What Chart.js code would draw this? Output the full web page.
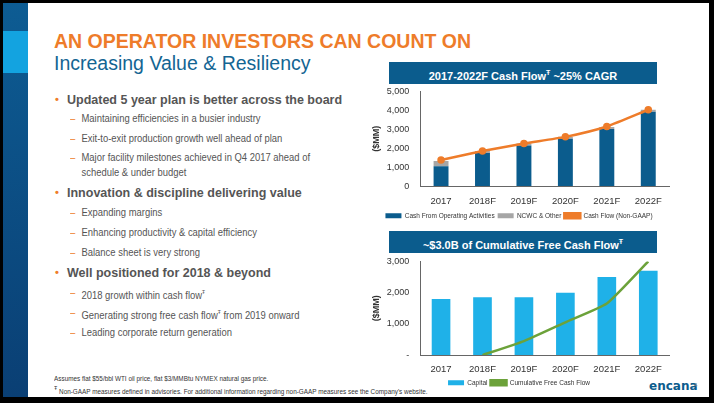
<!DOCTYPE html>
<html><head><meta charset="utf-8">
<script src="https://cdn.jsdelivr.net/npm/chart.js@4"></script>
<style>
body{margin:0;width:714px;height:403px;background:#000;overflow:hidden;font-family:"Liberation Sans",Arial,sans-serif}
#slide{position:absolute;left:3px;top:3px;width:706px;height:394px;background:#fff;overflow:hidden}
.strip{position:absolute;left:0;top:0;width:25px;height:394px;background:linear-gradient(#0d5c93,#0a3f74)}
.strip2{position:absolute;left:0;top:28px;width:25px;height:42px;background:#13a3e0}
.t1{position:absolute;left:51px;top:27px;color:#ee7c2a;font-weight:bold;font-size:19.5px;white-space:nowrap}
.t2{position:absolute;left:51px;top:49px;color:#136593;font-size:19.5px;white-space:nowrap}
.b{position:absolute;left:64px;font-weight:bold;font-size:12.5px;color:#555;white-space:nowrap}
.b:before{content:"•";position:absolute;left:-12px;color:#ee7c2a;font-size:11px}
.s{position:absolute;left:67px;font-size:11.5px;color:#555;white-space:nowrap;line-height:15px;transform:scaleX(0.82);transform-origin:0 0;padding-left:14px}
.s:before{content:"–";position:absolute;left:0;color:#ee7c2a}
.hdr{position:absolute;left:386px;width:268px;height:22px;background:#0b5c8d;color:#fff;font-weight:bold;font-size:11px;text-align:center;line-height:22px}
.fn{position:absolute;left:51px;font-size:7.5px;color:#333;white-space:nowrap;transform:scaleX(0.85);transform-origin:0 0}
.logo{position:absolute;left:646px;top:376px;color:#0b5c8d;font-weight:bold;font-size:12px;font-family:"DejaVu Sans"}
.pg{position:absolute;left:691px;top:379px;color:#888;font-size:6px}
canvas{position:absolute}
</style></head><body>
<div id="slide">
<div class="strip"></div><div class="strip2"></div>
<div class="t1">AN OPERATOR INVESTORS CAN COUNT ON</div>
<div class="t2">Increasing Value &amp; Resiliency</div>
<div class="b" style="top:90px">Updated 5 year plan is better across the board</div>
<div class="s" style="top:108px">Maintaining efficiencies in a busier industry</div>
<div class="s" style="top:128px">Exit-to-exit production growth well ahead of plan</div>
<div class="s" style="top:147px">Major facility milestones achieved in Q4 2017 ahead of<br>schedule &amp; under budget</div>
<div class="b" style="top:183px">Innovation &amp; discipline delivering value</div>
<div class="s" style="top:202px">Expanding margins</div>
<div class="s" style="top:222px">Enhancing productivity &amp; capital efficiency</div>
<div class="s" style="top:242px">Balance sheet is very strong</div>
<div class="b" style="top:263px">Well positioned for 2018 &amp; beyond</div>
<div class="s" style="top:282px">2018 growth within cash flow<sup style="font-size:6px">Ŧ</sup></div>
<div class="s" style="top:302px">Generating strong free cash flow<sup style="font-size:6px">Ŧ</sup> from 2019 onward</div>
<div class="s" style="top:322px">Leading corporate return generation</div>
<div class="fn" style="top:371px">Assumes flat $55/bbl WTI oil price, flat $3/MMBtu NYMEX natural gas price.</div>
<div class="fn" style="top:381px"><sup>Ŧ</sup> Non-GAAP measures defined in advisories. For additional information regarding non-GAAP measures see the Company's website.</div>
<div class="hdr" style="top:59px">2017-2022F Cash Flow<sup style="font-size:7px">Ŧ</sup> ~25% CAGR</div>
<div class="hdr" style="top:228px">~$3.0B of Cumulative Free Cash Flow<sup style="font-size:7px">Ŧ</sup></div>
<div class="logo">encana</div><div class="pg">4</div>
<canvas id="c1" style="left:358px;top:80px;width:318px;height:146px" width="318" height="146"></canvas>
<canvas id="c2" style="left:358px;top:250px;width:318px;height:143px" width="318" height="143"></canvas>
</div>
<script>
const categories=["2017","2018F","2019F","2020F","2021F","2022F"];
const cashFromOps=[1050,1750,2150,2500,3020,3930];
const ncwcOther=[280,100,100,100,100,100];
const cashFlowNonGaap=[1380,1850,2250,2600,3150,4030];
const capital=[1800,1850,1850,2000,2500,2700];
const cumulativeFcf=[null,0,450,1050,1650,3000];
Chart.defaults.font.family='"Liberation Sans",Arial,sans-serif';
Chart.defaults.color='#333';
Chart.defaults.animation=false;
const yTitle={display:true,text:'($MM)',font:{size:9,weight:'bold'},padding:2};
const legendOpts={position:'bottom',labels:{boxWidth:16,boxHeight:5,font:{size:6.5},padding:3,sort:(a,b)=>a.datasetIndex-b.datasetIndex}};
new Chart(document.getElementById('c1'),{
 data:{labels:categories,datasets:[
  {type:'bar',label:'Cash From Operating Activities',data:cashFromOps,backgroundColor:'#0b5c8d',stack:'s',barPercentage:0.36,categoryPercentage:1,order:1},
  {type:'bar',label:'NCWC & Other',data:ncwcOther,backgroundColor:'#a6a6a6',stack:'s',barPercentage:0.36,categoryPercentage:1,order:2},
  {type:'line',label:'Cash Flow (Non-GAAP)',data:cashFlowNonGaap,borderColor:'#ee7c2a',backgroundColor:'#ee7c2a',borderWidth:2.5,pointRadius:2.5,tension:0.2,order:0}
 ]},
 options:{responsive:false,layout:{padding:{left:8,right:10,top:4}},
  plugins:{legend:legendOpts,tooltip:{enabled:false}},
  scales:{x:{stacked:true,grid:{display:false},border:{color:'#666'},ticks:{font:{size:9.5},padding:2}},
   y:{stacked:true,min:0,max:5000,ticks:{stepSize:1000,font:{size:9},callback:v=>v.toLocaleString('en-US')},grid:{display:false},border:{color:'#666'},title:yTitle}}}
});
new Chart(document.getElementById('c2'),{
 data:{labels:categories,datasets:[
  {type:'bar',label:'Capital',data:capital,backgroundColor:'#1fb1e8',barPercentage:0.45,categoryPercentage:1,order:1},
  {type:'line',label:'Cumulative Free Cash Flow',data:cumulativeFcf,borderColor:'#6ca23a',backgroundColor:'#6ca23a',borderWidth:2.5,pointRadius:0,tension:0.15,order:0}
 ]},
 options:{responsive:false,layout:{padding:{left:8,right:10,top:6}},
  plugins:{legend:legendOpts,tooltip:{enabled:false}},
  scales:{x:{grid:{display:false},border:{color:'#666'},ticks:{font:{size:9.5},padding:1}},
   y:{min:0,max:3000,ticks:{stepSize:1000,font:{size:9},callback:v=>v===0?'-':v.toLocaleString('en-US')},grid:{display:false},border:{color:'#666'},title:yTitle}}}
});
</script>
</body></html>
